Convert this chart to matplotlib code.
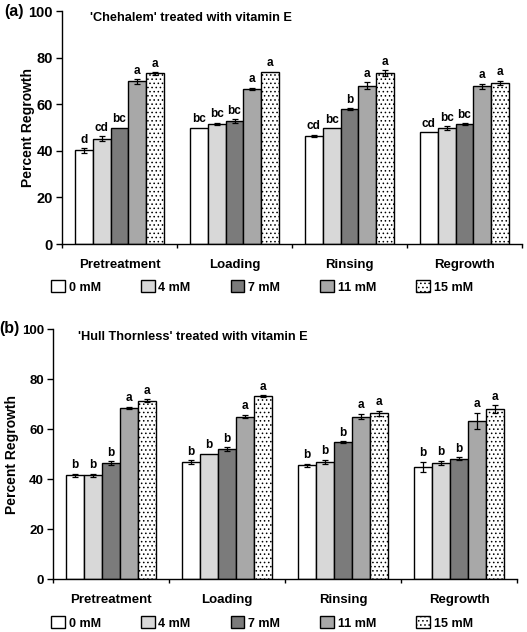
import numpy as np
import matplotlib
matplotlib.use("Agg")
import matplotlib.pyplot as plt

plt.rcParams['font.family'] = ['Liberation Sans', 'DejaVu Sans']
plt.rcParams['font.weight'] = 'bold'
plt.rcParams['hatch.linewidth'] = 0.6

stages = ["Pretreatment", "Loading", "Rinsing", "Regrowth"]
doses = ["0 mM", "4 mM", "7 mM", "11 mM", "15 mM"]

# panel (a) 'Chehalem' -- rows = dose, columns = stage
chehalem = [
    [40.2, 50.0, 46.4, 48.0],
    [45.2, 51.6, 49.8, 49.8],
    [50.0, 52.8, 57.9, 51.4],
    [69.8, 66.6, 68.0, 67.7],
    [73.2, 74.0, 73.4, 69.1],
]
chehalem_err = [
    [1.0, 0.0, 0.5, 0.0],
    [1.2, 0.5, 0.0, 0.9],
    [0.0, 0.7, 0.3, 0.4],
    [1.0, 0.5, 1.5, 1.1],
    [0.5, 0.0, 1.3, 1.0],
]
chehalem_sig = [
    ["d", "bc", "cd", "cd"],
    ["cd", "bc", "bc", "bc"],
    ["bc", "bc", "b", "bc"],
    ["a", "a", "a", "a"],
    ["a", "a", "a", "a"],
]

# panel (b) 'Hull Thornless'
hull = [
    [41.5, 46.8, 45.5, 44.9],
    [41.5, 50.1, 47.0, 46.5],
    [46.4, 51.9, 54.9, 48.1],
    [68.4, 65.0, 65.0, 63.3],
    [71.3, 73.2, 66.4, 68.1],
]
hull_err = [
    [0.5, 0.7, 0.6, 1.9],
    [0.5, 0.0, 0.8, 0.8],
    [0.7, 0.8, 0.3, 0.6],
    [0.5, 0.7, 1.0, 3.2],
    [0.6, 0.4, 1.0, 1.5],
]
hull_sig = [
    ["b", "b", "b", "b"],
    ["b", "b", "b", "b"],
    ["b", "b", "b", "b"],
    ["a", "a", "a", "a"],
    ["a", "a", "a", "a"],
]

colors = ["white", "#d8d8d8", "#7b7b7b", "#a8a8a8", "white"]
hatches = [None, None, None, None, "...."]

fig = plt.figure(figsize=(5.27, 6.32), dpi=100)


def draw_panel(ax, vals, errs, sig, title, tag, tag_x, ylab_x, title_x, tick_fs):
    bw = 0.155
    centers = np.arange(len(stages)) + 0.5
    handles = []
    for i in range(len(doses)):
        xs = centers + (i - 2) * bw
        b = ax.bar(xs, vals[i], width=bw, color=colors[i], edgecolor="black",
                   linewidth=1.0, hatch=hatches[i], label=doses[i], zorder=2)
        handles.append(b)
        e = np.array(errs[i])
        mask = e > 0
        ax.errorbar(xs[mask], np.array(vals[i])[mask], yerr=e[mask], fmt="none",
                    ecolor="black", elinewidth=0.9, capsize=2, capthick=0.9, zorder=3)
        for x, v, er, s in zip(xs, vals[i], errs[i], sig[i]):
            ax.text(x, v + er + 1.0, s, ha="center", va="bottom", fontsize=8.5,
                    fontweight="bold")
    ax.set_xlim(0, 4)
    ax.set_ylim(0, 100)
    ax.set_yticks([0, 20, 40, 60, 80, 100])
    ax.tick_params(axis="y", labelsize=tick_fs, length=4, width=1, direction="out", pad=2.5)
    ax.set_xticks([0, 1, 2, 3, 4])
    ax.set_xticklabels([])
    ax.tick_params(axis="x", which="major", length=3, width=1, direction="out")
    ax.set_xticks(centers, minor=True)
    ax.set_xticklabels(stages, minor=True, fontsize=9.5, fontweight="bold")
    ax.tick_params(axis="x", which="minor", length=0, pad=11)
    for s in ["top", "right"]:
        ax.spines[s].set_visible(False)
    ax.spines["left"].set_linewidth(1)
    ax.spines["bottom"].set_linewidth(1)
    ax.set_ylabel("Percent Regrowth", fontsize=10, fontweight="bold")
    ax.yaxis.set_label_coords(ylab_x, 0.5)
    ax.text(title_x, 0.97, title, transform=ax.transAxes, fontsize=9.2,
            fontweight="bold", va="center", ha="left")
    ax.text(tag_x, 1.0, tag, transform=ax.transAxes, fontsize=11.5,
            fontweight="bold", va="center", ha="left")
    for lab in ax.get_yticklabels():
        lab.set_fontweight("bold")
    return handles


ax1 = fig.add_axes([62 / 527, 1 - 244 / 632, 460 / 527, 233 / 632])
h = draw_panel(ax1, chehalem, chehalem_err, chehalem_sig,
               "'Chehalem' treated with vitamin E", "(a)", -0.125, -0.058, 0.06, 10.5)
fig.legend(h, doses, loc="center", bbox_to_anchor=(262 / 527, 1 - 287 / 632),
           ncol=5, frameon=False, handlelength=1.1, handleheight=1.1,
           handletextpad=0.3, columnspacing=3.2, prop={"weight": "bold", "size": 9})

ax2 = fig.add_axes([53 / 527, 1 - 579 / 632, 464 / 527, 250 / 632])
h = draw_panel(ax2, hull, hull_err, hull_sig,
               "'Hull Thornless' treated with vitamin E", "(b)", -0.116, -0.074, 0.054, 9.5)
fig.legend(h, doses, loc="center", bbox_to_anchor=(262 / 527, 1 - 623 / 632),
           ncol=5, frameon=False, handlelength=1.1, handleheight=1.1,
           handletextpad=0.3, columnspacing=3.2, prop={"weight": "bold", "size": 9})

fig.savefig("out.png", dpi=100)
